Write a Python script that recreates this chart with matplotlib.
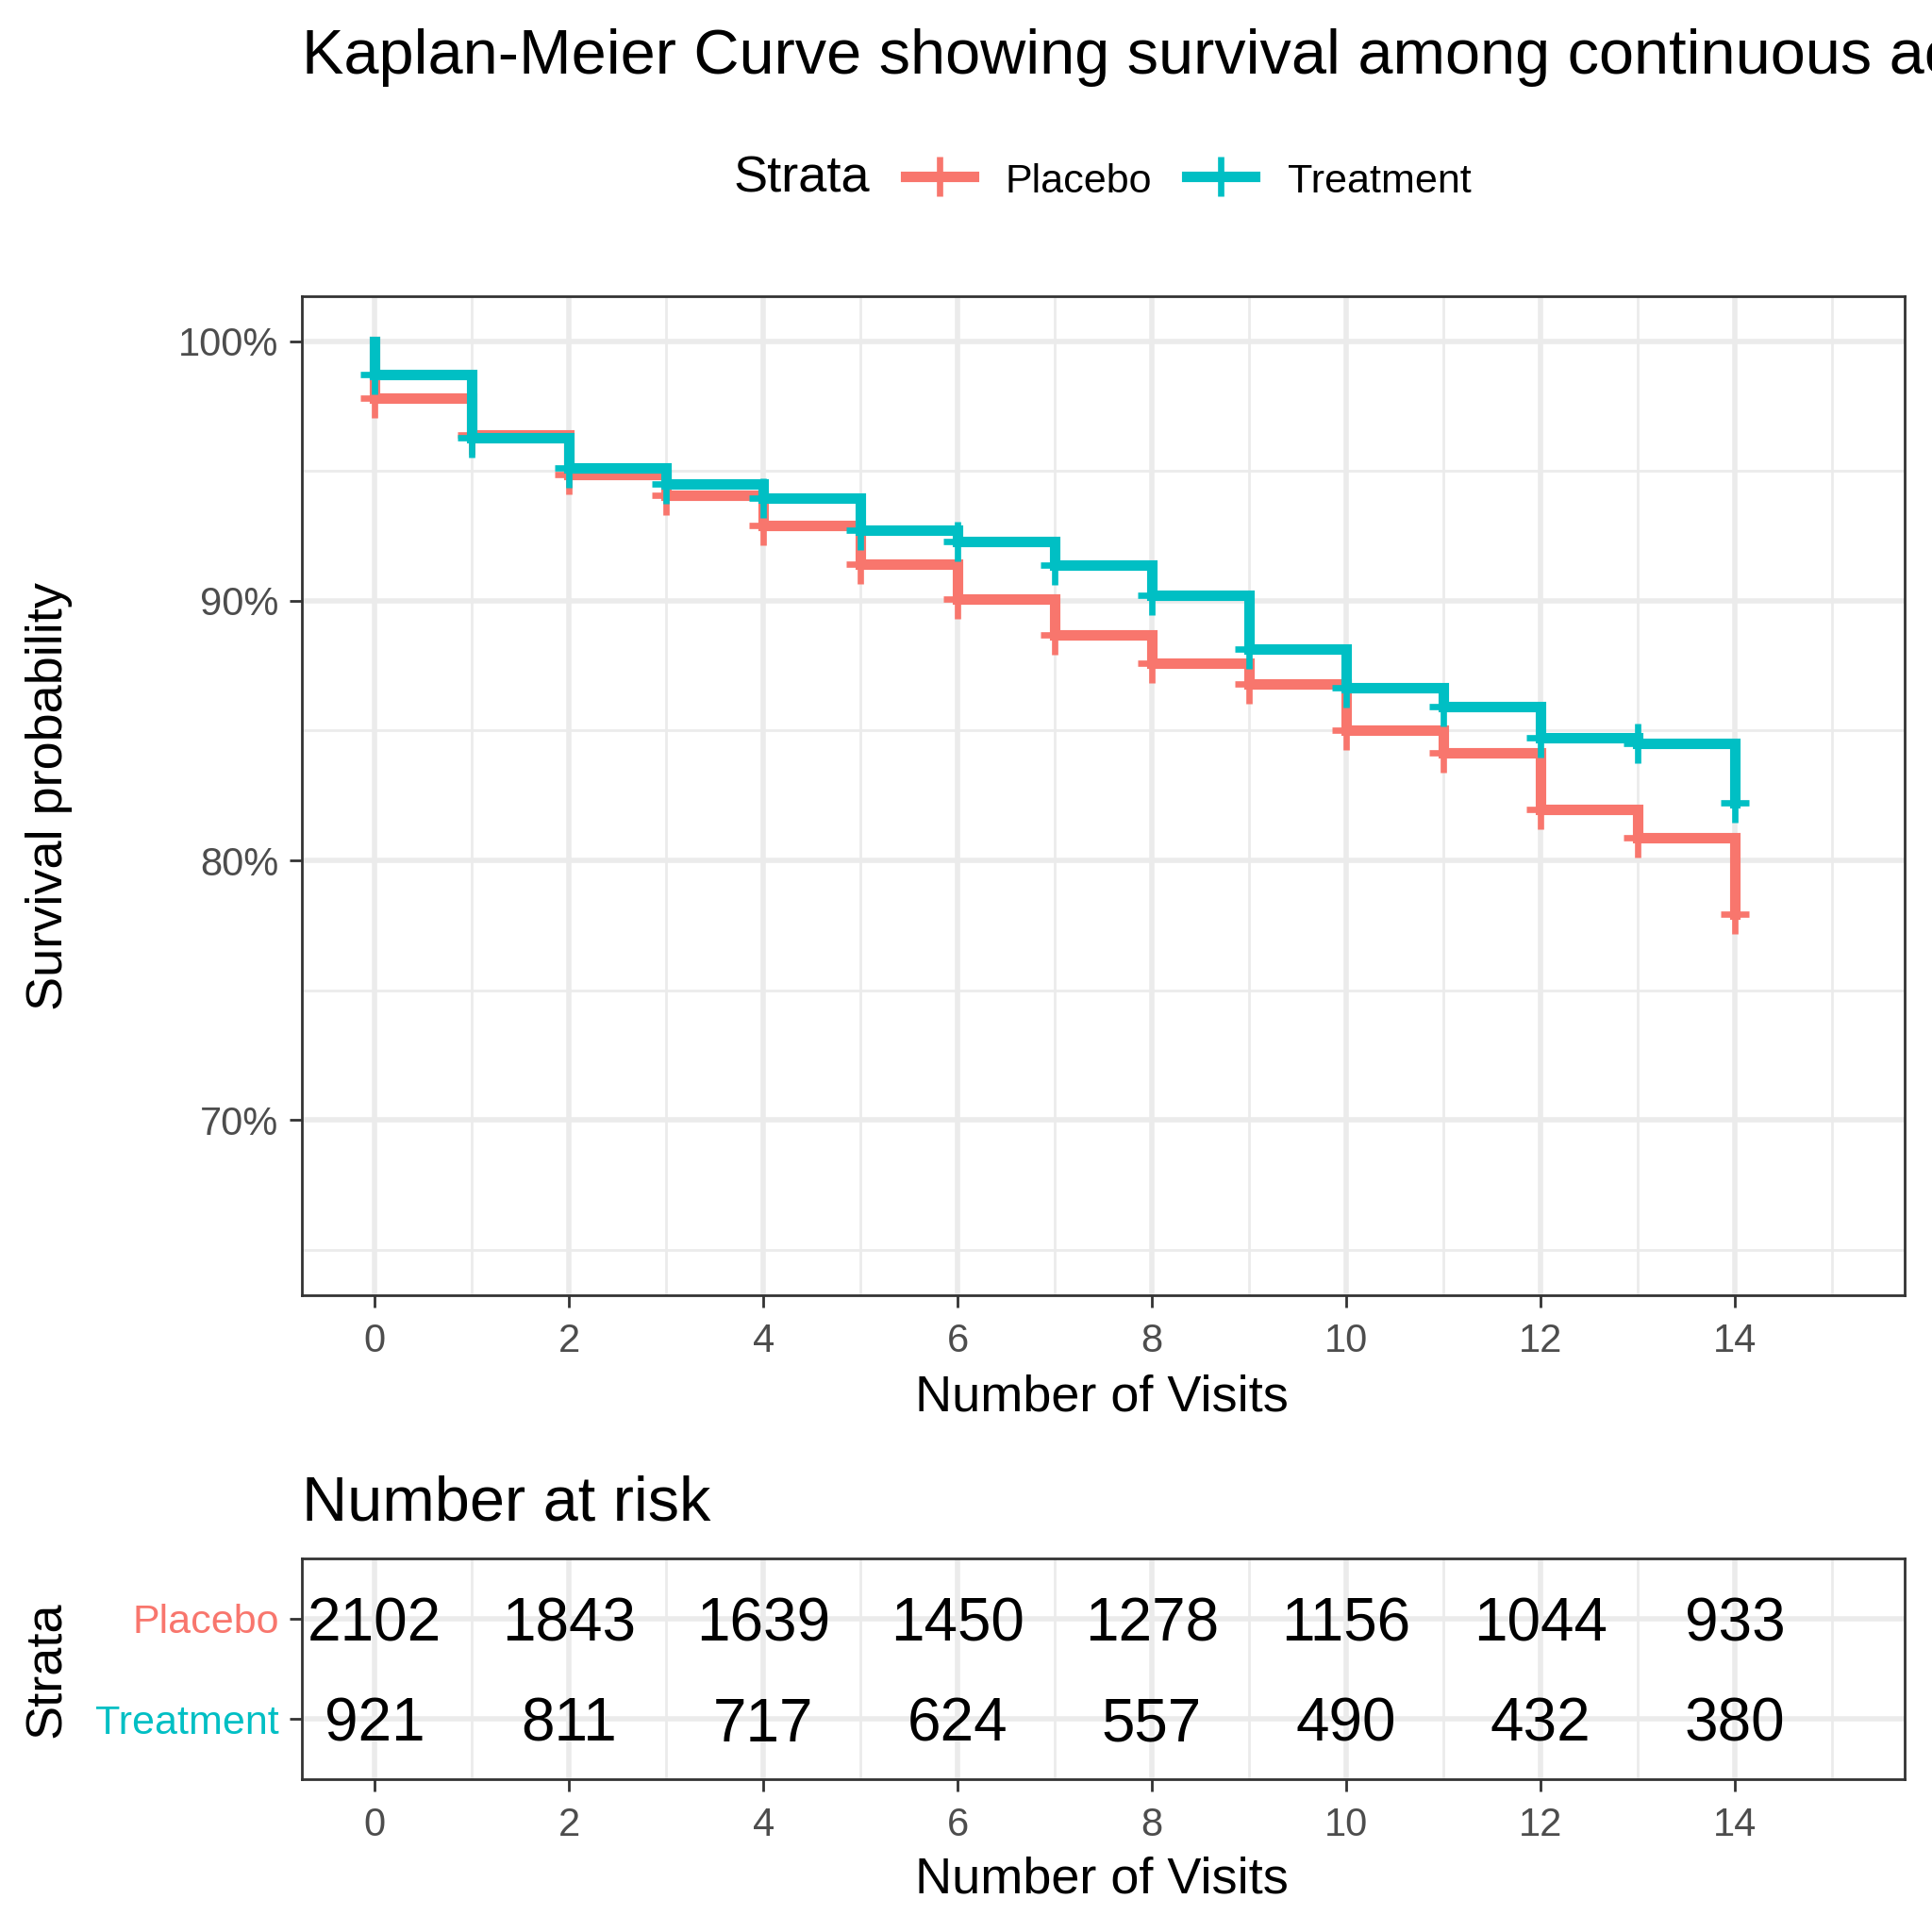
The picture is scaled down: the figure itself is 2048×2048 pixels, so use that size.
import matplotlib
matplotlib.use('Agg')
import matplotlib.pyplot as plt
from matplotlib.lines import Line2D
from matplotlib.path import Path
from matplotlib.ticker import FuncFormatter

plt.rcParams['font.family'] = ['Liberation Sans', 'DejaVu Sans']

# survival estimates at each visit
times = list(range(15))
placebo_surv = [0.978, 0.964, 0.9486, 0.9407, 0.929, 0.914, 0.9007, 0.887,
                0.876, 0.868, 0.8502, 0.8416, 0.8197, 0.8089, 0.7794]
treatment_surv = [0.987, 0.963, 0.9512, 0.9449, 0.9394, 0.9271, 0.923, 0.9137,
                  0.902, 0.8813, 0.8667, 0.8591, 0.8473, 0.8451, 0.8222]

# number at risk table
strata = ['Placebo', 'Treatment']
risk_times = [0, 2, 4, 6, 8, 10, 12, 14]
placebo_risk = [2102, 1843, 1639, 1450, 1278, 1156, 1044, 933]
treatment_risk = [921, 811, 717, 624, 557, 490, 432, 380]

colors = {'Placebo': '#F8766D', 'Treatment': '#00BFC4'}
GRID = '#EBEBEB'
DARK = '#333333'
TICKLAB = '#4D4D4D'
LW = 4.0

# censor mark: taller than wide
censor = Path([(-0.72, 0), (0.72, 0), (0, -1), (0, 1)],
              [Path.MOVETO, Path.LINETO, Path.MOVETO, Path.LINETO])


def style_axes(ax):
    ax.set_facecolor('white')
    for s in ax.spines.values():
        s.set_color(DARK)
        s.set_linewidth(1.0)
    ax.tick_params(axis='both', colors=DARK, length=4.8, width=1.0,
                   labelsize=15, labelcolor=TICKLAB)
    ax.tick_params(axis='x', pad=5.5)
    ax.tick_params(axis='y', pad=4)
    ax.set_xlim(-0.75, 15.75)
    ax.set_xticks(range(0, 15, 2))
    ax.set_xticks(range(1, 16, 2), minor=True)
    ax.tick_params(which='minor', length=0)
    ax.grid(which='major', color=GRID, linewidth=2.0)
    ax.grid(which='minor', axis='x', color=GRID, linewidth=1.0)
    ax.set_axisbelow(True)


fig = plt.figure(figsize=(10.24, 10.24), dpi=200)

# ---- survival curves ----
ax = fig.add_axes([0.15625, 0.3296, 0.8297, 0.5173])
style_axes(ax)
for name, surv in [('Placebo', placebo_surv), ('Treatment', treatment_surv)]:
    xs = [0] + times
    ys = [1.0] + surv
    ax.plot(xs, ys, drawstyle='steps-post', color=colors[name], lw=LW,
            solid_joinstyle='miter')
    ax.plot(times, surv, linestyle='none', marker=censor, markersize=15,
            markeredgewidth=2.4, color=colors[name])
ax.set_ylim(0.6325, 1.0175)
ax.set_yticks([0.7, 0.8, 0.9, 1.0])
ax.set_yticks([0.65, 0.75, 0.85, 0.95], minor=True)
ax.grid(which='minor', axis='y', color=GRID, linewidth=1.0)
ax.yaxis.set_major_formatter(FuncFormatter(lambda v, p: f'{v * 100:.0f}%'))

# ---- risk table ----
tab = fig.add_axes([0.15625, 0.0791, 0.8297, 0.1143])
style_axes(tab)
tab.set_ylim(0.4, 2.6)
tab.set_yticks([2, 1])
tab.set_yticklabels(strata)
for lab, name in zip(tab.get_yticklabels(), strata):
    lab.set_color(colors[name])
    lab.set_fontsize(15.5)
for t, n in zip(risk_times, placebo_risk):
    tab.text(t, 2, str(n), ha='center', va='center_baseline', fontsize=23, color='black')
for t, n in zip(risk_times, treatment_risk):
    tab.text(t, 1, str(n), ha='center', va='center_baseline', fontsize=23, color='black')

# ---- labels ----
fig.text(0.15625, 0.9619, 'Kaplan-Meier Curve showing survival among continuous ac',
         fontsize=24, ha='left', va='baseline')
fig.text(0.5703, 0.2698, 'Number of Visits', fontsize=19.5, ha='center', va='baseline')
fig.text(0.5703, 0.0205, 'Number of Visits', fontsize=19.5, ha='center', va='baseline')
fig.text(0.0254, 0.588, 'Survival probability', fontsize=19.5, rotation=90,
         ha='center', va='center')
fig.text(0.0244, 0.136, 'Strata', fontsize=19.5, rotation=90, ha='center', va='center')
fig.text(0.15625, 0.2129, 'Number at risk', fontsize=24, ha='left', va='baseline')

# ---- legend ----
ly = 0.9087
fig.text(0.3794, 0.9004, 'Strata', fontsize=19.5, ha='left', va='baseline')
for name, x0, x1, tx in [('Placebo', 0.46875, 0.5039, 0.5205),
                         ('Treatment', 0.6143, 0.6494, 0.6665)]:
    fig.add_artist(Line2D([x0, x1], [ly, ly], transform=fig.transFigure,
                          color=colors[name], lw=LW))
    fig.add_artist(Line2D([(x0 + x1) / 2], [ly], transform=fig.transFigure,
                          linestyle='none', marker=censor, markersize=15,
                          markeredgewidth=2.4, color=colors[name]))
    fig.text(tx, 0.9004, name, fontsize=15.5, ha='left', va='baseline')

fig.savefig('out.png', dpi=200, facecolor='white')
